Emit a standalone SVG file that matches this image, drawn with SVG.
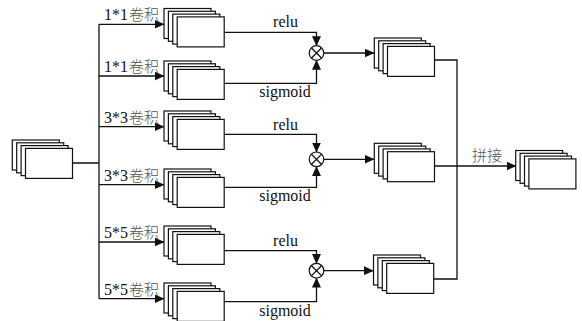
<svg xmlns="http://www.w3.org/2000/svg" xmlns:xlink="http://www.w3.org/1999/xlink" width="582" height="321" viewBox="0 0 582 321">
  <style>
    .ln { fill: none; stroke: #111; stroke-width: 1.3; }
    .arr { marker-end: url(#head); }
    .fm { fill: #fff; stroke: #111; stroke-width: 1.2; }
    .op { fill: #fff; stroke: #111; stroke-width: 1.2; }
    .lbl { font-size: 16px; fill: #111; }
    .cjk { font-size: 15px; font-weight: 300; fill: #555; }
  </style>
  <defs>
    <marker id="head" markerUnits="userSpaceOnUse" markerWidth="10" markerHeight="9" refX="9.5" refY="4.5" orient="auto">
      <path d="M0,0 L10,4.5 L0,9 Z" fill="#111"/>
    </marker>
    <!-- stack of four feature maps, origin at the back map's top-left corner -->
    <g id="stack">
      <rect class="fm" x="0" y="0" width="47" height="30"/>
      <rect class="fm" x="4.4" y="2.8" width="47" height="30"/>
      <rect class="fm" x="8.8" y="5.6" width="47" height="30"/>
      <rect class="fm" x="13.2" y="8.4" width="47" height="30"/>
    </g>
    <!-- element-wise product operator -->
    <g id="mul">
      <circle class="op" cx="0" cy="0" r="7.3"/>
      <path class="ln" d="M-5.2,-5.2 L5.2,5.2 M5.2,-5.2 L-5.2,5.2" stroke-width="1.1"/>
    </g>
  </defs>

  <g id="connectors">
    <!-- input to bus -->
    <path class="ln" d="M72.5,163 H99 M99,24.3 V298.7"/>
    <path class="ln arr" d="M99,24.3 H164"/>
    <path class="ln arr" d="M99,76 H164"/>
    <path class="ln arr" d="M99,126.7 H164"/>
    <path class="ln arr" d="M99,184.7 H164"/>
    <path class="ln arr" d="M99,242 H164"/>
    <path class="ln arr" d="M99,298.7 H164"/>
    <!-- gate branches into the products -->
    <path class="ln arr" d="M224.2,32.3 H316.5 V45.7"/>
    <path class="ln arr" d="M224.2,83.3 H316.5 V60.3"/>
    <path class="ln arr" d="M224.2,134.3 H316.5 V152"/>
    <path class="ln arr" d="M224.2,187.3 H316.5 V166.6"/>
    <path class="ln arr" d="M224.2,250.7 H316.5 V263.4"/>
    <path class="ln arr" d="M224.2,301.7 H316.5 V278"/>
    <!-- products to gated maps -->
    <path class="ln arr" d="M323.8,53 H374"/>
    <path class="ln arr" d="M323.8,159.3 H374"/>
    <path class="ln arr" d="M323.8,270.7 H373.3"/>
    <!-- concatenation -->
    <path class="ln" d="M434.5,60 H457 V279 H434"/>
    <path class="ln arr" d="M434.5,166 H516"/>
  </g>

  <g id="input"><use xlink:href="#stack" x="12.3" y="140"/></g>

  <g id="conv1x1a"><use xlink:href="#stack" x="164" y="8.5"/></g>
  <g id="conv1x1b"><use xlink:href="#stack" x="164" y="61"/></g>
  <g id="conv3x3a"><use xlink:href="#stack" x="164" y="111"/></g>
  <g id="conv3x3b"><use xlink:href="#stack" x="164" y="169"/></g>
  <g id="conv5x5a"><use xlink:href="#stack" x="164" y="226"/></g>
  <g id="conv5x5b"><use xlink:href="#stack" x="164" y="283"/></g>

  <g id="mul1"><use xlink:href="#mul" x="316.5" y="53"/></g>
  <g id="mul2"><use xlink:href="#mul" x="316.5" y="159.3"/></g>
  <g id="mul3"><use xlink:href="#mul" x="316.5" y="270.7"/></g>

  <g id="gated1"><use xlink:href="#stack" x="374.3" y="38"/></g>
  <g id="gated2"><use xlink:href="#stack" x="374.3" y="143.3"/></g>
  <g id="gated3"><use xlink:href="#stack" x="373.5" y="255"/></g>

  <g id="output"><use xlink:href="#stack" x="515.7" y="150.5"/></g>

  <g id="labels" font-family="Liberation Serif, Noto Sans CJK SC, serif">
    <text class="lbl" x="104" y="20.3">1*1<tspan class="cjk" dx="1">卷积</tspan></text>
    <text class="lbl" x="104" y="72">1*1<tspan class="cjk" dx="1">卷积</tspan></text>
    <text class="lbl" x="104" y="122.7">3*3<tspan class="cjk" dx="1">卷积</tspan></text>
    <text class="lbl" x="104" y="180.7">3*3<tspan class="cjk" dx="1">卷积</tspan></text>
    <text class="lbl" x="104" y="238">5*5<tspan class="cjk" dx="1">卷积</tspan></text>
    <text class="lbl" x="104" y="294.7">5*5<tspan class="cjk" dx="1">卷积</tspan></text>

    <text class="lbl" x="285.5" y="27.3" text-anchor="middle">relu</text>
    <text class="lbl" x="285.5" y="130" text-anchor="middle">relu</text>
    <text class="lbl" x="285.5" y="245.5" text-anchor="middle">relu</text>
    <text class="lbl" x="285" y="97.3" text-anchor="middle">sigmoid</text>
    <text class="lbl" x="285" y="201" text-anchor="middle">sigmoid</text>
    <text class="lbl" x="285" y="315.7" text-anchor="middle">sigmoid</text>

    <text class="cjk" x="487" y="161" text-anchor="middle">拼接</text>
  </g>
</svg>
